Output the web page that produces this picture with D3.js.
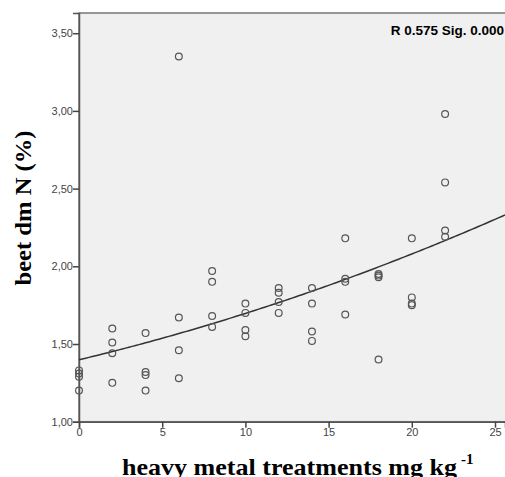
<!DOCTYPE html>
<html>
<head>
<meta charset="utf-8">
<script src="https://cdn.jsdelivr.net/npm/d3@7"></script>
<style>
  body { margin: 0; background: #fff; }
  svg { display: block; }
</style>
</head>
<body>
<svg class="chart" width="505" height="477"></svg>
<script>
/* treatments (mg kg-1) and beet dm N (%) readings */
var doses = [0, 2, 4, 6, 8, 10, 12, 14, 16, 18, 20, 22];
var nValues = [
  [1.33, 1.31, 1.29, 1.20],
  [1.60, 1.51, 1.44, 1.25],
  [1.57, 1.32, 1.30, 1.20],
  [3.35, 1.67, 1.46, 1.28],
  [1.97, 1.90, 1.68, 1.61],
  [1.76, 1.70, 1.59, 1.55],
  [1.86, 1.83, 1.77, 1.70],
  [1.86, 1.76, 1.58, 1.52],
  [2.18, 1.92, 1.90, 1.69],
  [1.95, 1.94, 1.93, 1.40],
  [2.18, 1.80, 1.76, 1.75],
  [2.98, 2.54, 2.23, 2.19]
];
var xTicks = [0, 5, 10, 15, 20, 25];
var yTicks = [1.0, 1.5, 2.0, 2.5, 3.0, 3.5];
var statText = 'R 0.575 Sig. 0.000';

/* flatten points */
var points = [];
doses.forEach(function (d, i) {
  nValues[i].forEach(function (v) { points.push({ x: d, y: v }); });
});

/* quadratic least squares fit */
function quadFit(pts) {
  var s = [0, 0, 0, 0, 0], t = [0, 0, 0];
  pts.forEach(function (p) {
    var xp = 1;
    for (var k = 0; k < 5; k++) { s[k] += xp; if (k < 3) t[k] += xp * p.y; xp *= p.x; }
  });
  var m = [[s[0], s[1], s[2], t[0]], [s[1], s[2], s[3], t[1]], [s[2], s[3], s[4], t[2]]];
  for (var i = 0; i < 3; i++) {
    for (var j = i + 1; j < 3; j++) {
      var f = m[j][i] / m[i][i];
      for (var k = i; k < 4; k++) m[j][k] -= f * m[i][k];
    }
  }
  var c = [0, 0, 0];
  for (var i = 2; i >= 0; i--) {
    var sum = m[i][3];
    for (var k = i + 1; k < 3; k++) sum -= m[i][k] * c[k];
    c[i] = sum / m[i][i];
  }
  return c;
}
var coef = quadFit(points);

/* Scales */
var xScale = d3.scaleLinear().domain([0, 25.6]).range([79, 505]);
var yScale = d3.scaleLinear().domain([1, 3.63]).range([421.7, 13]);

var svg = d3.select('.chart');

/* plot background + frame */
svg.append('rect')
  .attr('x', 79).attr('y', 13)
  .attr('width', 430).attr('height', 421.7 - 13)
  .attr('fill', '#f0f0f0')
  .attr('stroke', '#777')
  .attr('stroke-width', 1.5);

/* Axes */
var fmt = function (d) { return d3.format('.2f')(d).replace('.', ','); };

var yAxis = d3.axisLeft(yScale).tickValues(yTicks).tickFormat(fmt).tickSize(6);
var xAxis = d3.axisBottom(xScale).tickValues(xTicks).tickSize(6);

var gy = svg.append('g').attr('transform', 'translate(79,0)').call(yAxis);
var gx = svg.append('g').attr('transform', 'translate(0,421.7)').call(xAxis);

[gx, gy].forEach(function (g) {
  g.select('.domain').attr('stroke', '#555').attr('stroke-width', 1.5);
  g.selectAll('.tick line').attr('stroke', '#444').attr('stroke-width', 1.5);
  g.selectAll('.tick text')
    .attr('fill', '#444')
    .style('font-family', 'Arial, "Liberation Sans", sans-serif')
    .style('font-size', '11px');
});
gy.selectAll('.tick text').attr('x', -6);
gx.selectAll('.tick text').attr('y', 7);

/* Fit curve */
var fitLine = d3.line()
  .x(function (d) { return xScale(d); })
  .y(function (d) { return yScale(coef[0] + coef[1] * d + coef[2] * d * d); });

svg.append('path')
  .datum(d3.range(0, 25.61, 0.2))
  .attr('d', fitLine)
  .attr('fill', 'none')
  .attr('stroke', '#333')
  .attr('stroke-width', 1.5);

/* Points */
svg.append('g')
  .selectAll('circle')
  .data(points)
  .join('circle')
  .attr('cx', function (d) { return xScale(d.x); })
  .attr('cy', function (d) { return yScale(d.y); })
  .attr('r', 3.4)
  .attr('fill', 'none')
  .attr('stroke', '#555')
  .attr('stroke-width', 1.2);

/* Stat label */
svg.append('text')
  .attr('x', 504).attr('y', 35)
  .attr('text-anchor', 'end')
  .style('font-family', 'Arial, "Liberation Sans", sans-serif')
  .style('font-weight', 'bold')
  .style('font-size', '13.5px')
  .text(statText);

/* Axis titles */
svg.append('text')
  .attr('transform', 'translate(31,208) rotate(-90)')
  .attr('text-anchor', 'middle')
  .attr('textLength', 155)
  .attr('lengthAdjust', 'spacingAndGlyphs')
  .style('font-family', '"Liberation Serif", "Times New Roman", serif')
  .style('font-weight', 'bold')
  .style('font-size', '23px')
  .text('beet dm N (%)');

svg.append('text')
  .attr('x', 122).attr('y', 475)
  .attr('textLength', 335)
  .attr('lengthAdjust', 'spacingAndGlyphs')
  .style('font-family', '"Liberation Serif", "Times New Roman", serif')
  .style('font-weight', 'bold')
  .style('font-size', '23px')
  .text('heavy metal treatments mg kg');
svg.append('text')
  .attr('x', 461).attr('y', 464)
  .style('font-family', '"Liberation Serif", "Times New Roman", serif')
  .style('font-weight', 'bold')
  .style('font-size', '15px')
  .text('-1');
</script>
</body>
</html>
